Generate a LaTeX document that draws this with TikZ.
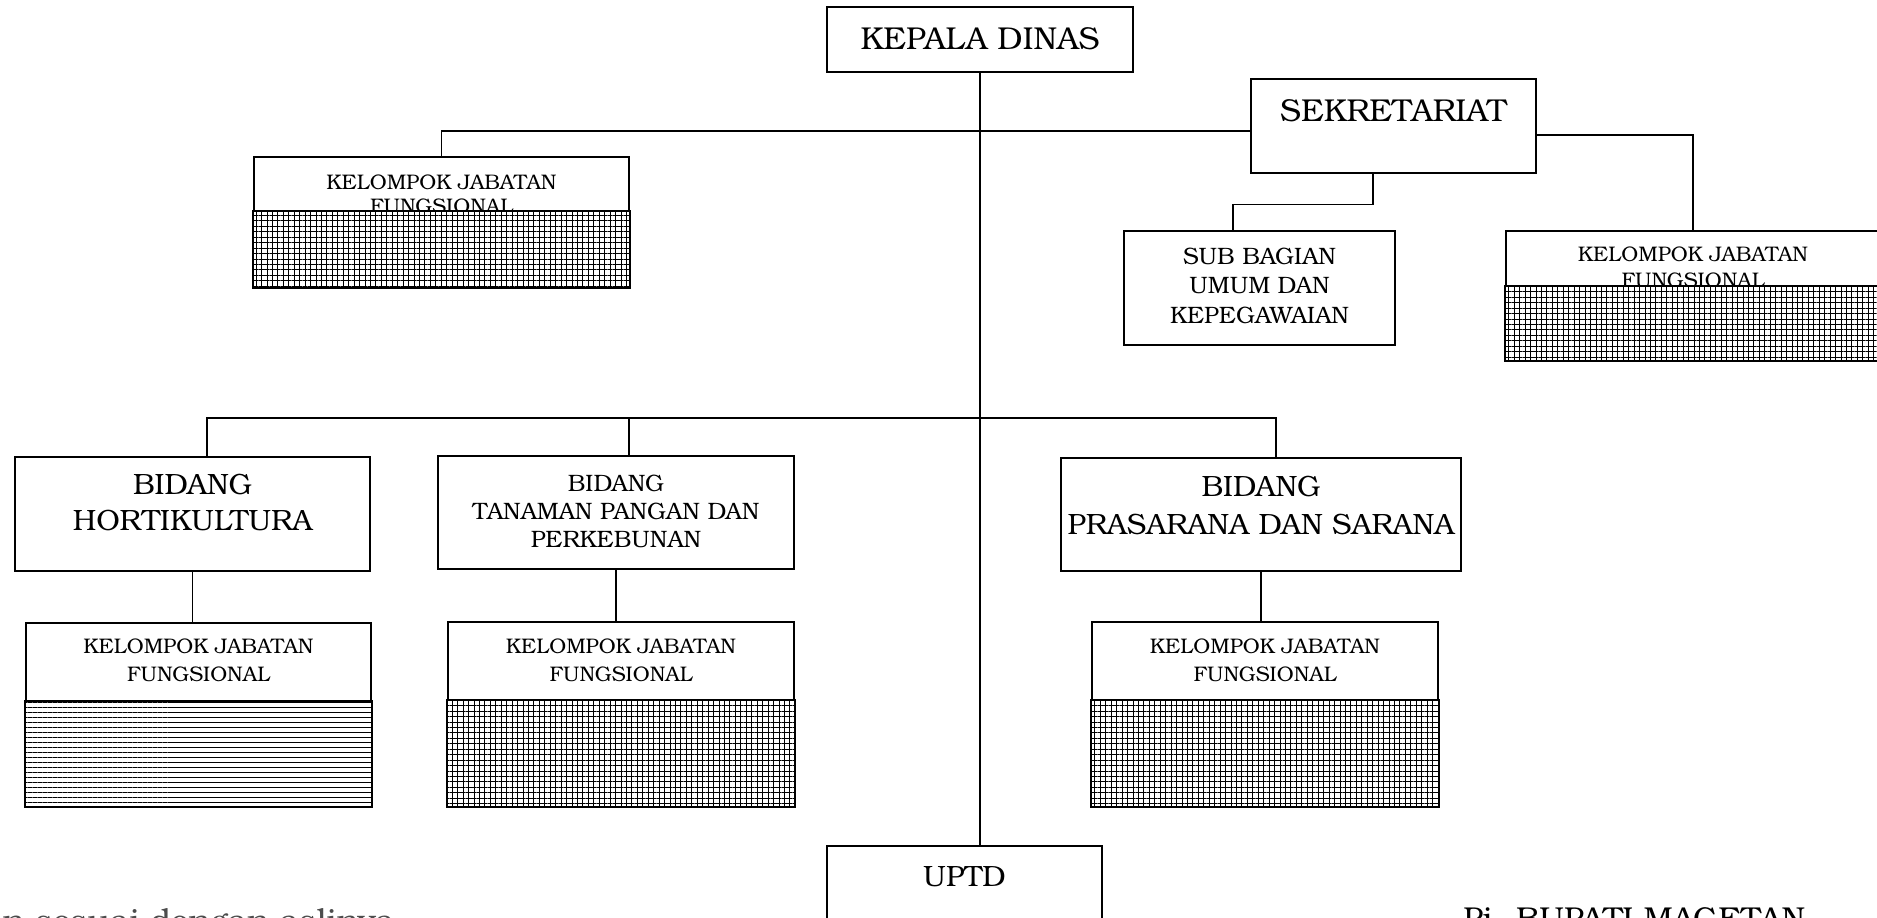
\documentclass[tikz,border=0pt]{standalone}
\usepackage{fontspec}
\setmainfont{texgyrebonum-regular.otf}
\usepackage{tikz}
\usetikzlibrary{positioning}
\usetikzlibrary{patterns.meta}

\begin{document}
\begin{tikzpicture}[x=0.02cm, y=-0.02cm,
    unit/.style={draw, line width=0.9pt, fill=white, inner sep=0pt},
    link/.style={line width=0.7pt},
    caption/.style={anchor=north, inner sep=0pt, align=center},
    headfont/.style={font=\fontsize{18}{21.6}\selectfont},
    bidfont/.style={font=\fontsize{16.7}{20}\selectfont},
    midfont/.style={font=\fontsize{13.5}{16.5}\selectfont},
    kjffont/.style={font=\fontsize{12}{16.3}\selectfont},
    meshfill/.style={preaction={fill=white}, pattern={Hatch[angle=0, distance=3.1pt, line width=0.4pt]}},
    stripefill/.style={preaction={fill=white}, pattern={Lines[angle=0, distance=2.85pt, line width=0.4pt]}}]
    \useasboundingbox (0,0) rectangle (1877,918);
    \clip (0,0) rectangle (1877,918);

    % Kepala dinas
    \node[unit, minimum width=6.12cm, minimum height=1.3cm] (kepala) at (980,39.5) {};
    \node[caption, headfont] (kepalaT) at ([yshift=-0.42cm]kepala.north) {KEPALA DINAS};

    % Sekretariat and its units
    \node[unit, minimum width=5.7cm, minimum height=1.88cm] (sek) at (1393.5,126) {};
    \node[caption, headfont] (sekT) at ([yshift=-0.42cm]sek.north) {SEKRETARIAT};

    \node[unit, minimum width=5.42cm, minimum height=2.28cm] (sub) at (1259.5,288) {};
    \node[caption, midfont, font=\fontsize{13.5}{16.8}\selectfont] (subT) at ([yshift=-0.34cm]sub.north) {SUB BAGIAN\\UMUM DAN\\KEPEGAWAIAN};

    \node[unit, minimum width=7.5cm, minimum height=2.6cm] (kjfA) at (441.5,222) {};
    \node[caption, kjffont, font=\fontsize{12}{13.7}\selectfont] (kjfAT) at ([yshift=-0.36cm]kjfA.north) {KELOMPOK JABATAN\\FUNGSIONAL};
    \draw[line width=0.9pt, meshfill] ([yshift=-1.1cm]kjfA.north west) rectangle (kjfA.south east);

    \node[unit, minimum width=7.48cm, minimum height=2.58cm] (kjfB) at (1693,295.5) {};
    \node[caption, kjffont, font=\fontsize{12}{14.8}\selectfont] (kjfBT) at ([yshift=-0.32cm]kjfB.north) {KELOMPOK JABATAN\\FUNGSIONAL};
    \draw[line width=0.9pt, meshfill] ([yshift=-1.12cm]kjfB.north west) rectangle (kjfB.south east);

    % Bidang
    \node[unit, minimum width=7.1cm, minimum height=2.28cm] (horti) at (192.5,514) {};
    \node[caption, bidfont] (hortiT) at ([yshift=-0.36cm]horti.north) {BIDANG\\HORTIKULTURA};

    \node[unit, minimum width=7.12cm, minimum height=2.26cm] (tanaman) at (616,512.5) {};
    \node[caption, midfont, font=\fontsize{13.5}{16.2}\selectfont] (tanamanT) at ([yshift=-0.38cm]tanaman.north) {BIDANG\\TANAMAN PANGAN DAN\\PERKEBUNAN};

    \node[unit, minimum width=8cm, minimum height=2.26cm] (prasarana) at (1261,514.5) {};
    \node[caption, bidfont, font=\fontsize{16.7}{21.6}\selectfont] (prasaranaT) at ([yshift=-0.38cm]prasarana.north) {BIDANG\\PRASARANA DAN SARANA};

    % Kelompok jabatan fungsional under the bidang
    \node[unit, minimum width=6.9cm, minimum height=3.66cm] (kjfC) at (198.5,714.5) {};
    \node[caption, kjffont] (kjfCT) at ([yshift=-0.32cm]kjfC.north) {KELOMPOK JABATAN\\FUNGSIONAL};
    \draw[line width=0.9pt, stripefill] ([yshift=-1.58cm]kjfC.north west) rectangle (kjfC.south east);

    \node[unit, minimum width=6.92cm, minimum height=3.68cm] (kjfD) at (621,714) {};
    \node[caption, kjffont, font=\fontsize{12}{15.9}\selectfont] (kjfDT) at ([yshift=-0.34cm]kjfD.north) {KELOMPOK JABATAN\\FUNGSIONAL};
    \draw[line width=0.9pt, meshfill] ([yshift=-1.58cm]kjfD.north west) rectangle (kjfD.south east);

    \node[unit, minimum width=6.92cm, minimum height=3.68cm] (kjfE) at (1265,714) {};
    \node[caption, kjffont, font=\fontsize{12}{15.9}\selectfont] (kjfET) at ([yshift=-0.34cm]kjfE.north) {KELOMPOK JABATAN\\FUNGSIONAL};
    \draw[line width=0.9pt, meshfill] ([yshift=-1.58cm]kjfE.north west) rectangle (kjfE.south east);

    % UPTD
    \node[unit, minimum width=5.5cm, minimum height=2.4cm] (uptd) at (964.5,906) {};
    \node[caption, bidfont] (uptdT) at ([yshift=-0.42cm]uptd.north) {UPTD};

    % Lines
    \coordinate (midbar) at (981,418);
    \draw[link] (kepala.south) -- (kepala.south |- uptd.north);
    \draw[link] (kjfA.north) |- ([yshift=-0.1cm]sek.west);
    \draw[link] ([yshift=-0.18cm]sek.east) -| (kjfB.north);
    \draw[link] ([xshift=-0.41cm]sek.south) -- ++(0,31) -| ([xshift=-0.53cm]sub.north);
    \draw[link] ([xshift=0.29cm]horti.north) |- (midbar) -| ([xshift=0.3cm]prasarana.north);
    \draw[link] ([xshift=0.26cm]tanaman.north) -- ([xshift=0.26cm]tanaman.north |- midbar);
    \draw[link] (horti.south) -- (horti.south |- kjfC.north);
    \draw[link] (tanaman.south) -- (tanaman.south |- kjfD.north);
    \draw[link] (prasarana.south) -- (prasarana.south |- kjfE.north);

    % Bottom texts
    \node[anchor=north west, inner sep=0pt, headfont] (bupati) at (1463,907) {Pj. BUPATI MAGETAN};
    \node[anchor=north east, inner sep=0pt, text=black!70, font=\fontsize{19}{22}\selectfont] (salinan) at (395,908) {n sesuai dengan aslinya};
\end{tikzpicture}
\end{document}
